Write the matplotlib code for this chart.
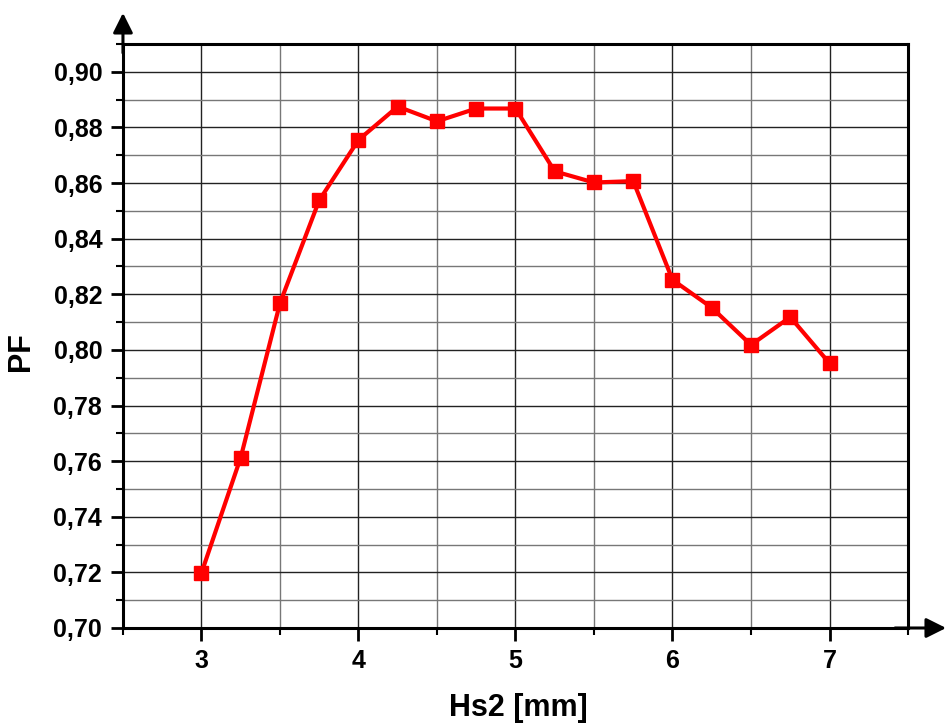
import matplotlib
matplotlib.use('Agg')
import matplotlib.pyplot as plt
from matplotlib.ticker import MultipleLocator, FuncFormatter

plt.rcParams['font.family'] = ['Liberation Sans', 'DejaVu Sans']
plt.rcParams['font.weight'] = 'bold'

# data
hs2 = [3.0, 3.25, 3.5, 3.75, 4.0, 4.25, 4.5, 4.75, 5.0, 5.25, 5.5, 5.75, 6.0, 6.25, 6.5, 6.75, 7.0]
pf = [0.7198, 0.7613, 0.8168, 0.8538, 0.8755, 0.8875, 0.8822, 0.8868, 0.8868, 0.8642, 0.8602, 0.8607,
      0.8252, 0.8152, 0.8018, 0.8118, 0.7952]

fig = plt.figure(figsize=(9.51, 7.25), dpi=100)
ax = fig.add_axes([0.1293, 0.1338, 0.8255, 0.8055])

ax.set_xlim(2.5, 7.5)
ax.set_ylim(0.70, 0.91)
ax.xaxis.set_major_locator(MultipleLocator(1))
ax.xaxis.set_minor_locator(MultipleLocator(0.5))
ax.yaxis.set_major_locator(MultipleLocator(0.02))
ax.yaxis.set_minor_locator(MultipleLocator(0.01))
ax.yaxis.set_major_formatter(FuncFormatter(lambda v, p: ('%.2f' % v).replace('.', ',')))
ax.xaxis.set_major_formatter(FuncFormatter(lambda v, p: '%d' % v))

ax.grid(which='major', color='#222222', lw=1.0)
ax.grid(which='minor', color='#777777', lw=1.0)
ax.set_axisbelow(True)

for s in ax.spines.values():
    s.set_linewidth(2.2)
ax.tick_params(which='major', direction='out', length=9, width=2, labelsize=18, pad=6)
ax.tick_params(which='minor', direction='out', length=5, width=1.5)
for lbl in ax.get_xticklabels() + ax.get_yticklabels():
    lbl.set_fontweight('bold')

ax.plot(hs2, pf, color='#ff0000', lw=3, marker='s', markersize=10, zorder=5, clip_on=False)

# axis arrows
ax.annotate('', xy=(0, 1.058), xytext=(0, 0.98), xycoords='axes fraction',
            arrowprops=dict(arrowstyle='-|>', color='black', lw=2.2, mutation_scale=30), annotation_clip=False)
ax.annotate('', xy=(1.052, 0), xytext=(0.98, 0), xycoords='axes fraction',
            arrowprops=dict(arrowstyle='-|>', color='black', lw=2.2, mutation_scale=30), annotation_clip=False)

fig.text(0.022, 0.515, 'PF', rotation=90, ha='center', va='center', fontsize=22, fontweight='bold')
fig.text(0.545, 0.024, 'Hs2 [mm]', ha='center', va='center', fontsize=22, fontweight='bold')

fig.savefig('out.png', dpi=100)
